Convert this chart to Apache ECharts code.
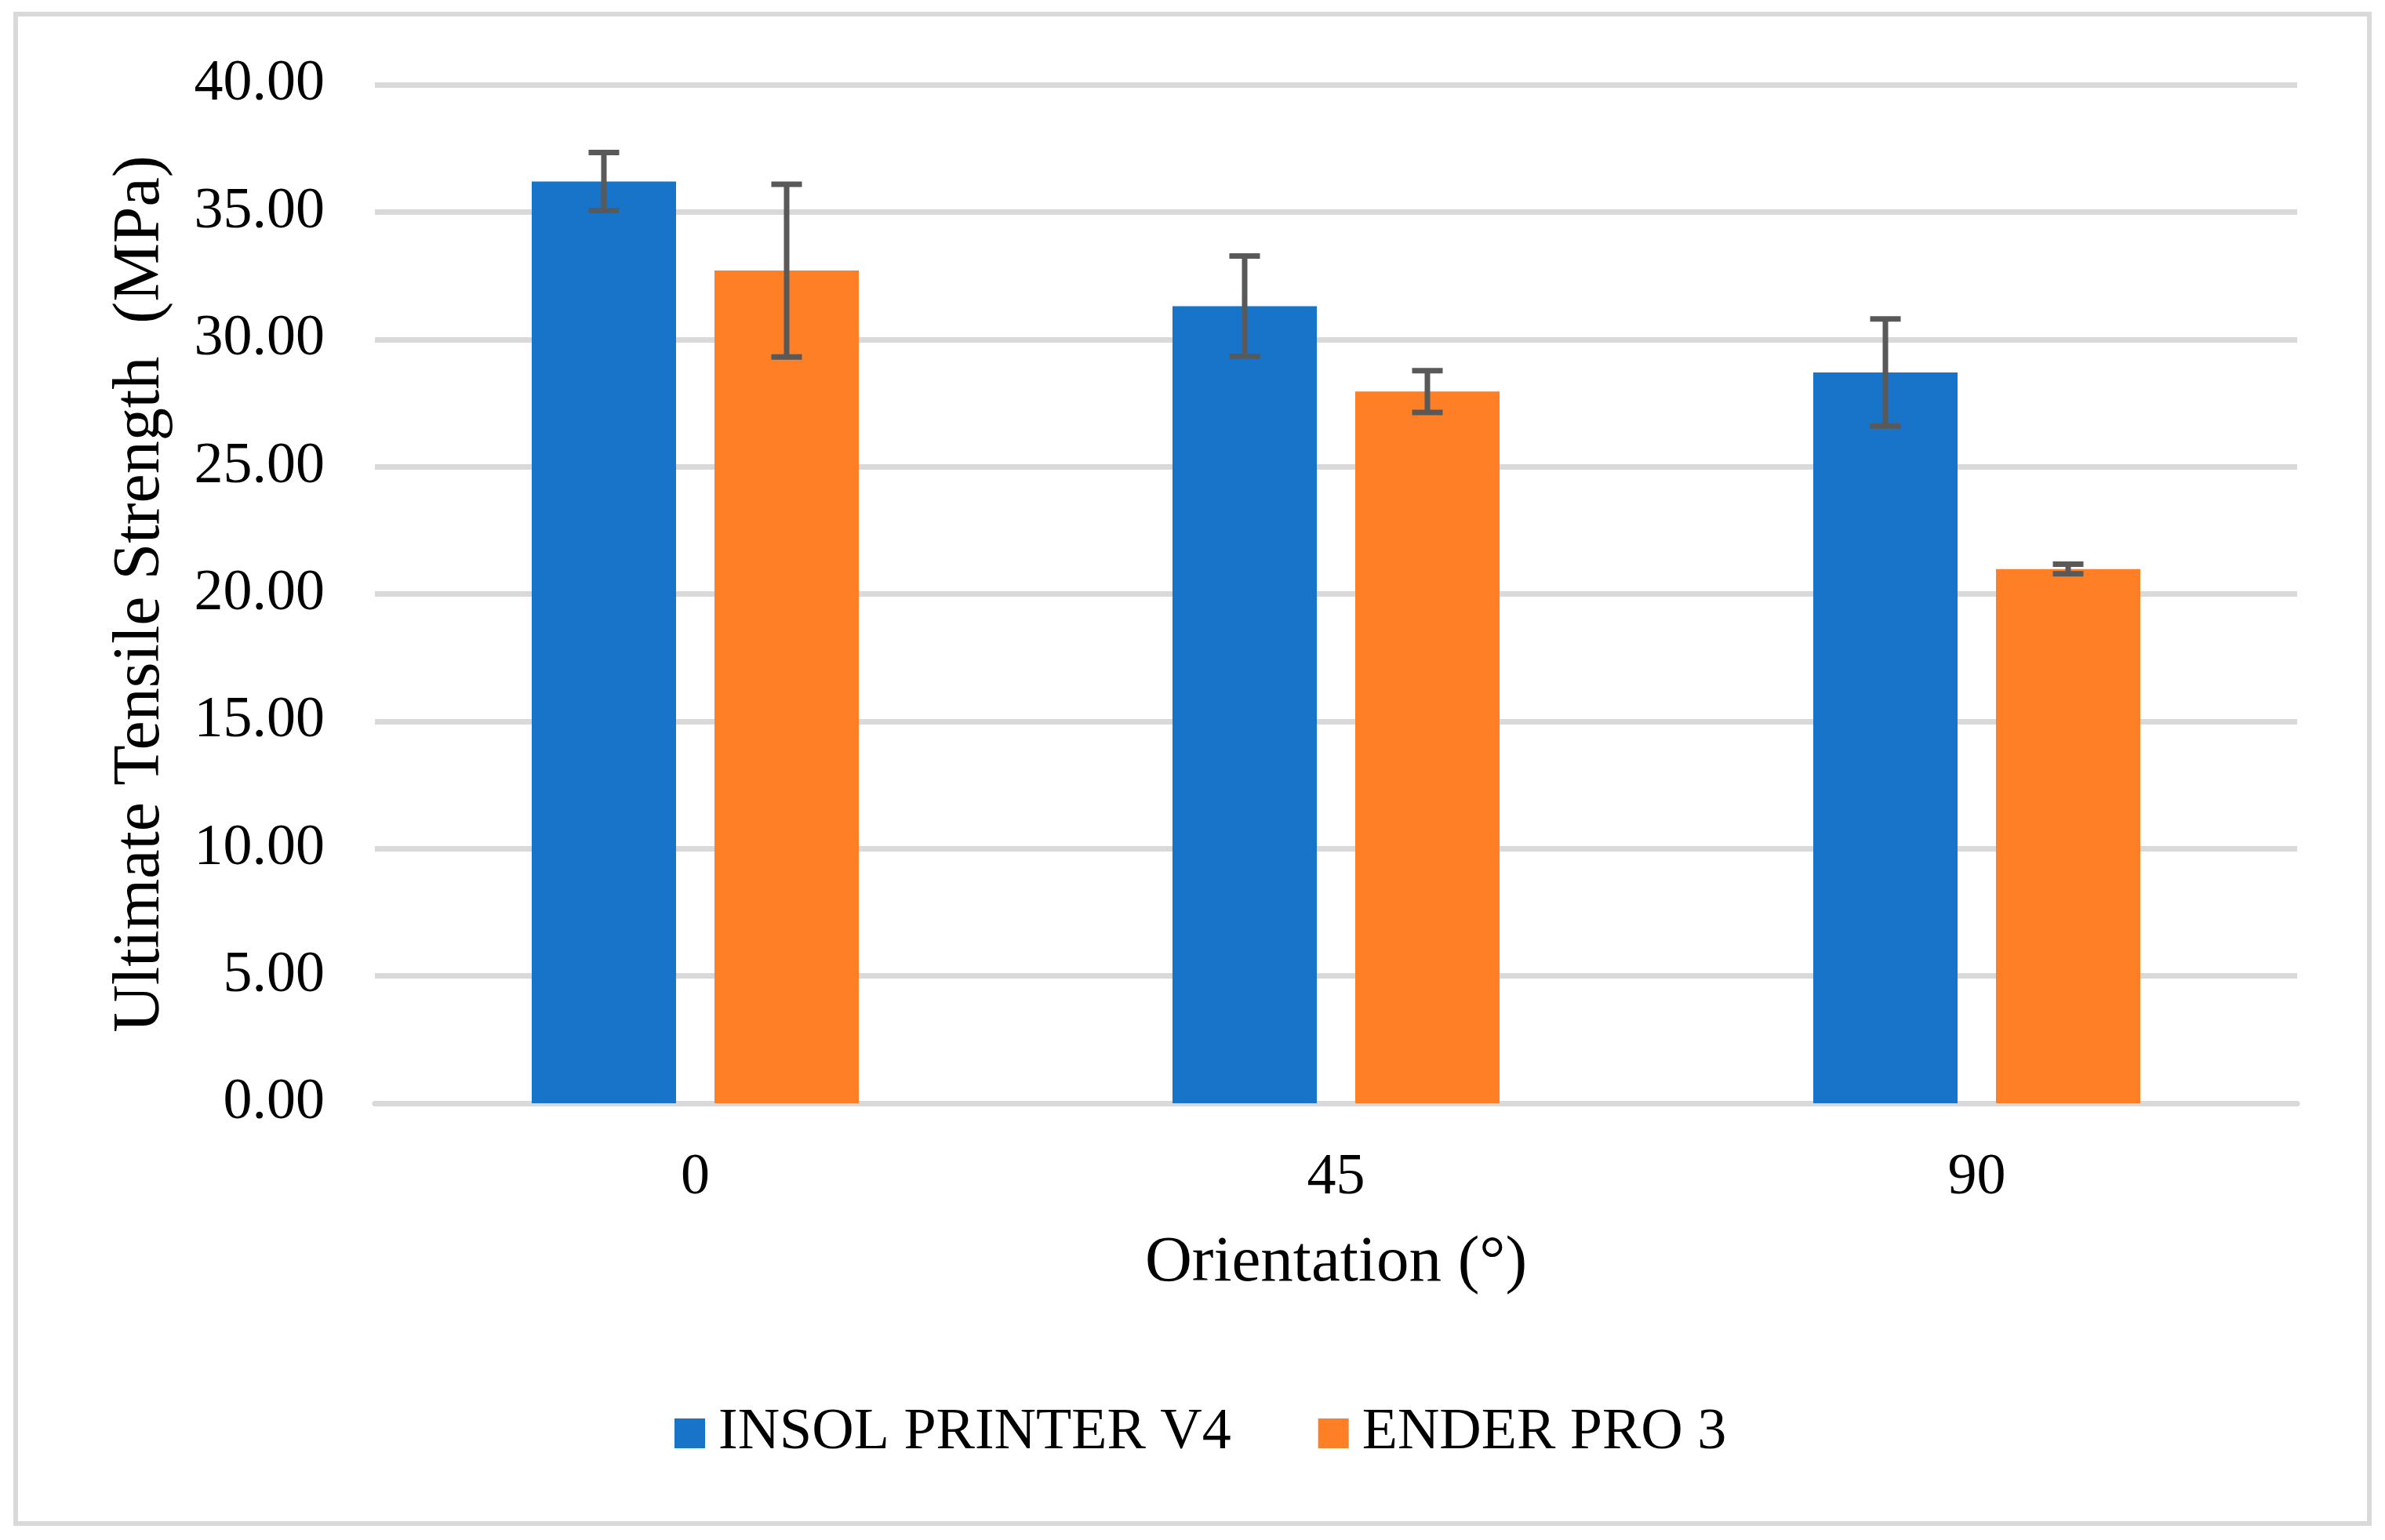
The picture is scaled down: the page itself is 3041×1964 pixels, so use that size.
<!DOCTYPE html>
<html>
<head>
<meta charset="utf-8">
<script src="https://cdn.jsdelivr.net/npm/echarts@6/dist/echarts.min.js"></script>
<style>
html,body{margin:0;padding:0;background:#fff;}
#chart{width:3041px;height:1964px;}
</style>
</head>
<body>
<div id="chart"></div>
<script>
// ---- data ----
const categories = ['0', '45', '90'];
const seriesNames = ['INSOL PRINTER V4', 'ENDER PRO 3'];
const insolValues = [36.2, 31.3, 28.7];
const enderValues = [32.7, 27.95, 20.98];
const insolErrors = [1.14, 1.97, 2.10];
const enderErrors = [3.39, 0.82, 0.19];
const yTicks = { min: 0, max: 40, interval: 5 };

// ---- styles ----
const FONT = 'Liberation Serif';
const BLUE = '#1874C8';
const ORANGE = '#FF7F27';
const ERR = '#595959';
const GRID = '#D9D9D9';
const BAR_W = 184;
const GAP_PX = 49;
const CAP_W = 39;
const ERR_LW = 7;

function errSeries(name, values, errors, side) {
  const data = values.map((v, i) => [i, v, errors[i]]);
  return {
    type: 'custom',
    name: name + ' err',
    z: 5,
    silent: true,
    data: data,
    encode: { x: 0, y: 1 },
    renderItem: function (params, api) {
      const idx = api.value(0);
      const v = api.value(1);
      const e = api.value(2);
      const off = side * (BAR_W + GAP_PX) / 2;
      const hi = api.coord([idx, v + e]);
      const lo = api.coord([idx, v - e]);
      const x = hi[0] + off;
      const st = { stroke: ERR, lineWidth: ERR_LW, fill: null };
      return {
        type: 'group',
        children: [
          { type: 'line', shape: { x1: x, y1: hi[1], x2: x, y2: lo[1] }, style: st },
          { type: 'line', shape: { x1: x - CAP_W / 2, y1: hi[1], x2: x + CAP_W / 2, y2: hi[1] }, style: st },
          { type: 'line', shape: { x1: x - CAP_W / 2, y1: lo[1], x2: x + CAP_W / 2, y2: lo[1] }, style: st }
        ]
      };
    }
  };
}

const chart = echarts.init(document.getElementById('chart'), null, { renderer: 'canvas' });
chart.setOption({
  animation: false,
  backgroundColor: '#fff',
  textStyle: { fontFamily: FONT, color: '#000' },
  graphic: [{
    type: 'rect',
    shape: { x: 20, y: 18, width: 3001, height: 1925 },
    style: { fill: null, stroke: GRID, lineWidth: 6 },
    silent: true
  }],
  grid: { left: 478, right: 112, top: 108, bottom: 557, outerBoundsMode: 'none' },
  legend: {
    data: seriesNames,
    left: 860,
    top: 1791,
    padding: 0,
    itemWidth: 39,
    itemHeight: 38,
    itemGap: 111,
    icon: 'rect',
    textStyle: { fontFamily: FONT, fontSize: 74, color: '#000', padding: [0, 0, 0, 12] }
  },
  xAxis: {
    type: 'category',
    data: categories,
    name: 'Orientation (°)',
    nameLocation: 'middle',
    nameGap: 163,
    nameTextStyle: { fontFamily: FONT, fontSize: 83, color: '#000' },
    axisLine: { show: true, lineStyle: { color: GRID, width: 7 } },
    axisTick: { show: false },
    axisLabel: { fontFamily: FONT, fontSize: 74, color: '#000', margin: 59 },
    splitLine: { show: false }
  },
  yAxis: {
    type: 'value',
    min: yTicks.min,
    max: yTicks.max,
    interval: yTicks.interval,
    name: 'Ultimate Tensile Strength  (MPa)',
    nameLocation: 'middle',
    nameRotate: 90,
    nameGap: 256,
    nameTextStyle: { fontFamily: FONT, fontSize: 84, color: '#000' },
    axisLine: { show: false },
    axisTick: { show: false },
    axisLabel: {
      fontFamily: FONT, fontSize: 74, color: '#000', margin: 64,
      formatter: v => v.toFixed(2)
    },
    splitLine: { show: true, lineStyle: { color: GRID, width: 7 } }
  },
  series: [
    {
      type: 'bar', name: seriesNames[0], data: insolValues,
      barWidth: BAR_W, barGap: (GAP_PX / BAR_W * 100) + '%',
      itemStyle: { color: BLUE }
    },
    {
      type: 'bar', name: seriesNames[1], data: enderValues,
      barWidth: BAR_W, barGap: (GAP_PX / BAR_W * 100) + '%',
      itemStyle: { color: ORANGE }
    },
    errSeries(seriesNames[0], insolValues, insolErrors, -1),
    errSeries(seriesNames[1], enderValues, enderErrors, 1)
  ]
});
</script>
</body>
</html>
